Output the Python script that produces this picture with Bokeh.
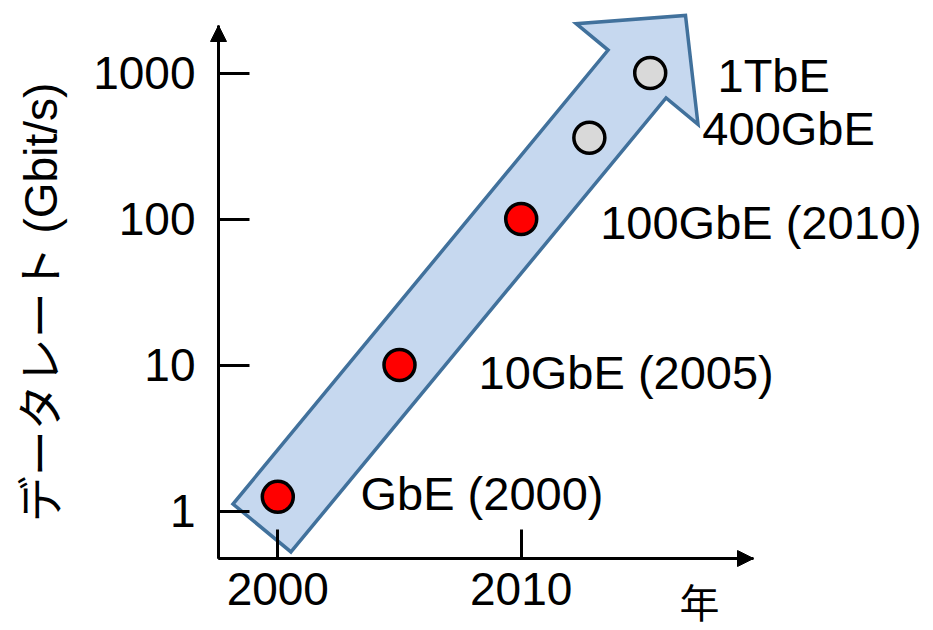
import math
from bokeh.plotting import figure
from bokeh.models import (FixedTicker, Arrow, NormalHead, Label, ColumnDataSource,
                          LinearAxis, LogAxis)
from bokeh.core.properties import value
from bokeh.embed import file_html
from bokeh.resources import INLINE

# ---- data ----
years = [2000, 2005, 2010, 2012.8, 2015.3]
rates = [1.25, 10, 100, 360, 1000]          # Gbit/s
names = ["GbE (2000)", "10GbE (2005)", "100GbE (2010)", "400GbE", "1TbE"]
is_standard = [True, True, True, False, False]
x_ticks = [2000, 2010]
x_tick_labels = ["2000", "2010"]
y_ticks = [1, 10, 100, 1000]
y_tick_labels = ["1", "10", "100", "1000"]
y_title = "データレート (Gbit/s)"
x_title = "年"

# ---- layout / styling ----
W, H = 933, 630
PX_PER_YEAR = 24.34
PX_PER_DECADE = 146.0
X0_PX, Y0_PX = 277.3, 510.5          # pixel of (2000, 1)
AXIS_LEFT_PX, AXIS_BOTTOM_PX = 218, 558
AXIS_RIGHT_PX, AXIS_TOP_PX = 753, 25
LATIN = "Liberation Sans, Noto Sans CJK JP"


def from_px(px, py):
    """canvas pixel (from top-left) -> data"""
    return (2000 + (px - X0_PX) / PX_PER_YEAR,
            10 ** ((Y0_PX - py) / PX_PER_DECADE))


def to_px(x, y):
    return (X0_PX + (x - 2000) * PX_PER_YEAR,
            Y0_PX - math.log10(y) * PX_PER_DECADE)


XL, YB = from_px(0, H)
XR, YT = from_px(W, 0)
AX_X, AX_Y = from_px(AXIS_LEFT_PX, AXIS_BOTTOM_PX)
AX_XEND, AX_YEND = from_px(AXIS_RIGHT_PX, AXIS_TOP_PX)

p = figure(width=W, height=H, min_border=0,
           x_range=(XL, XR), y_range=(YB, YT),
           y_axis_type="log", x_axis_location=None, y_axis_location=None,
           output_backend="svg", toolbar_location=None)
p.xgrid.grid_line_color = None
p.ygrid.grid_line_color = None
p.outline_line_color = None
p.background_fill_color = "white"
p.border_fill_color = "white"

xaxis = LinearAxis(fixed_location=AX_Y, bounds=(AX_X, AX_XEND),
                   ticker=FixedTicker(ticks=x_ticks),
                   major_label_overrides=dict(zip(x_ticks, x_tick_labels)),
                   major_tick_in=29, major_label_standoff=14)
yaxis = LogAxis(fixed_location=AX_X, bounds=(AX_Y, AX_YEND),
                ticker=FixedTicker(ticks=y_ticks, minor_ticks=[]),
                major_label_overrides=dict(zip(y_ticks, y_tick_labels)),
                major_tick_in=31, major_label_standoff=23)
for ax in (xaxis, yaxis):
    ax.axis_line_width = 3
    ax.axis_line_color = "black"
    ax.major_tick_line_width = 3
    ax.major_tick_line_color = "black"
    ax.major_tick_out = 0
    ax.minor_tick_line_color = None
    ax.major_label_text_font = LATIN
    ax.major_label_text_font_size = "46px"
    ax.major_label_text_color = "black"
p.add_layout(xaxis, "below")
p.add_layout(yaxis, "left")

# axis arrow heads
p.add_layout(Arrow(end=NormalHead(size=16, fill_color="black", line_color="black"),
                   x_start=AX_X, y_start=AX_Y, x_end=AX_X, y_end=AX_YEND,
                   line_color="black", line_width=3))
p.add_layout(Arrow(end=NormalHead(size=16, fill_color="black", line_color="black"),
                   x_start=AX_X, y_start=AX_Y, x_end=AX_XEND, y_end=AX_Y,
                   line_color="black", line_width=3))

# big block arrow following the trend (decoration), built in pixel space
tail = to_px(1999.35, 0.765)
tip = to_px(2016.75, 2480)
dx, dy = tip[0] - tail[0], tip[1] - tail[1]
L = math.hypot(dx, dy)
ux, uy = dx / L, dy / L
nx, ny = -uy, ux
shaft_hw, head_hw, head_len = 37.6, 79.0, 76.0
bx, by = tip[0] - ux * head_len, tip[1] - uy * head_len
pts = [
    (tail[0] + nx * shaft_hw, tail[1] + ny * shaft_hw),
    (bx + nx * shaft_hw, by + ny * shaft_hw),
    (bx + nx * head_hw, by + ny * head_hw),
    tip,
    (bx - nx * head_hw, by - ny * head_hw),
    (bx - nx * shaft_hw, by - ny * shaft_hw),
    (tail[0] - nx * shaft_hw, tail[1] - ny * shaft_hw),
]
data_pts = [from_px(a, b) for a, b in pts]
p.patch([q[0] for q in data_pts], [q[1] for q in data_pts],
        fill_color="#C6D8EF", line_color="#41719C", line_width=3.5,
        line_join="miter")

# points and their labels
colors = ["#FF0000" if s else "#D9D9D9" for s in is_standard]
src = ColumnDataSource(dict(x=years, y=rates, name=names, color=colors,
                            dx=[82.7, 79, 79, 113, 67.3],
                            dy=[-3.4, 7.5, 3.5, -9, 2.5]))
p.scatter("x", "y", source=src, size=31, fill_color="color",
          line_color="black", line_width=3.5)
p.text("x", "y", text="name", source=src, x_offset="dx", y_offset="dy",
       text_baseline="middle", text_align="left",
       text_font=value(LATIN), text_font_size="47px", text_color="black")

# axis titles
lx, ly = from_px(40, 302)
p.add_layout(Label(x=lx, y=ly, text=y_title, angle=math.pi / 2,
                   text_align="center", text_baseline="middle",
                   text_font=LATIN, text_font_size="46px", text_color="black"))
lx, ly = from_px(699, 600)
p.add_layout(Label(x=lx, y=ly, text=x_title, text_align="center",
                   text_baseline="middle", text_font="Noto Sans CJK JP",
                   text_font_size="40px", text_color="black"))

open("out.html", "w").write(file_html(p, INLINE))
